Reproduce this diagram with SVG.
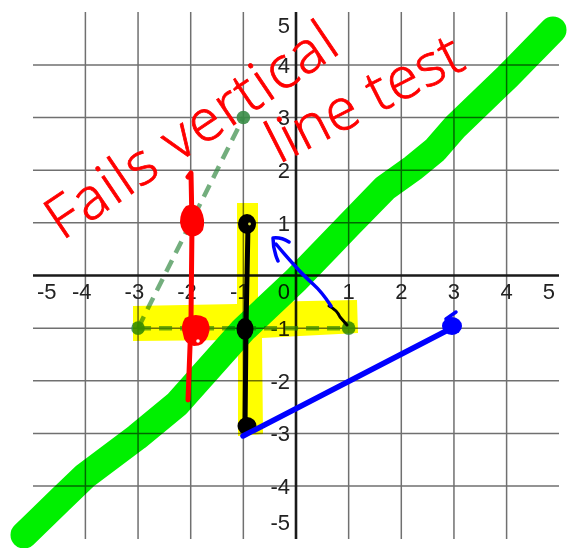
<svg xmlns="http://www.w3.org/2000/svg" width="569" height="548" viewBox="0 0 569 548">
<style>
.grid{stroke:#707070;stroke-width:1.5;fill:none}
.axis{stroke:#1a1a1a;stroke-width:2.6;fill:none}
.lbl{font-family:"Liberation Sans",Arial,sans-serif;font-size:22px;fill:#222}
.hl{mix-blend-mode:multiply}
.pen{fill:none;stroke-linecap:round;stroke-linejoin:round}
.hand{font-family:"Open Sans","Liberation Sans",sans-serif;font-weight:300;font-size:58px;fill:#ff0000;stroke:#ff0000;stroke-width:0.8}
</style>
<rect width="569" height="548" fill="#fff"/>
<g id="grid">
<path class="grid" d="M85.4 12V539M138.05 12V539M190.7 12V539M243.35 12V539M348.65 12V539M401.3 12V539M453.95 12V539M506.6 12V539M33 64.9H559M33 117.55H559M33 170.2H559M33 222.85H559M33 328.15H559M33 380.8H559M33 433.45H559M33 486.1H559"/>
<path class="axis" d="M33 275.5H559M296 12V539"/>
</g>
<g id="tick-labels" class="lbl">
<text x="37" y="299">-5</text>
<text x="81.7" y="299" text-anchor="middle">-4</text>
<text x="134.4" y="299" text-anchor="middle">-3</text>
<text x="187" y="299" text-anchor="middle">-2</text>
<text x="239.7" y="299" text-anchor="middle">-1</text>
<text x="290" y="299" text-anchor="end">0</text>
<text x="348.65" y="299" text-anchor="middle">1</text>
<text x="401.3" y="299" text-anchor="middle">2</text>
<text x="453.95" y="299" text-anchor="middle">3</text>
<text x="506.6" y="299" text-anchor="middle">4</text>
<text x="555" y="299" text-anchor="end">5</text>
<text x="290" y="32.5" text-anchor="end">5</text>
<text x="290" y="72.8" text-anchor="end">4</text>
<text x="290" y="125.4" text-anchor="end">3</text>
<text x="290" y="178" text-anchor="end">2</text>
<text x="290" y="230.7" text-anchor="end">1</text>
<text x="290" y="336" text-anchor="end">-1</text>
<text x="290" y="388.7" text-anchor="end">-2</text>
<text x="290" y="441.3" text-anchor="end">-3</text>
<text x="290" y="494" text-anchor="end">-4</text>
<text x="290" y="530" text-anchor="end">-5</text>
</g>
<g id="dashed-segments">
<path d="M138.05 328.15H348.65M138.05 328.15L243.35 117.55" fill="none" stroke="#388c46" stroke-opacity="0.7" stroke-width="4.5" stroke-dasharray="13 8"/>
<g fill="#388c46" fill-opacity="0.9">
<circle cx="138.05" cy="328.15" r="6.8"/>
<circle cx="348.65" cy="328.15" r="6.8"/>
<circle cx="243.35" cy="117.55" r="6.8"/>
</g>
</g>
<g id="yellow-highlight">
<path class="hl" fill="#ffff00" d="M237 203L258 203L258 302L357 300L358 333L300 336L262 338L263 434L238 436L238 340L133 341L133 306L237 304Z"/>
</g>
<g id="green-highlight">
<path class="hl pen" stroke="#00f000" stroke-width="27" d="M24 535L60 500L85 476L137 437L177 404L243 330L296 280L348 226L385 188L413 168L435 150L455 127L507 77L553 30"/>
</g>
<g id="red-line">
<path class="pen" stroke="#ff0000" stroke-width="5" d="M188 177L191 173L192 225L191 320L188 400"/>
<path fill="#ff0000" d="M186 206Q196 202 201 210Q206 220 203 230Q198 238 189 236Q181 232 180 222Q180 212 186 206Z"/>
<path fill="#ff0000" d="M185 318Q196 312 206 318Q212 326 208 336Q204 346 194 346Q184 344 183 334Q180 326 185 318Z"/>
<circle cx="198" cy="341" r="1.8" fill="#fff"/>
</g>
<g id="black-line">
<path class="pen" stroke="#000" stroke-width="5" d="M248 226L246 328L245 428"/>
<ellipse cx="247" cy="224" rx="9" ry="10" fill="#000"/>
<circle cx="249.5" cy="224" r="1.4" fill="#dede40"/>
<ellipse cx="245" cy="329" rx="8.5" ry="11" fill="#000"/>
<ellipse cx="247" cy="426" rx="9.5" ry="9" fill="#000"/>
<path class="pen" stroke="#000" stroke-width="3" d="M329 306Q337 310 340 317L347 325"/>
</g>
<g id="blue-arrow">
<path class="pen" stroke="#0000ff" stroke-width="3.5" d="M331 306Q322 292 313 284Q302 274 296 267Q285 255 276 244M278 261Q273 250 273 238Q281 237 289 242"/>
</g>
<g id="blue-line">
<path class="pen" stroke="#0000ff" stroke-width="5.5" d="M243 436L448 330"/>
<ellipse cx="452" cy="326" rx="10" ry="9" fill="#0000ff"/>
<path class="pen" stroke="#0000ff" stroke-width="3.5" d="M446 319L456 312"/>
</g>
<g id="annotation">
<text class="hand" transform="translate(62 241) rotate(-34)" textLength="338" lengthAdjust="spacing">Fails vertical</text>
<text class="hand" transform="translate(279 164) rotate(-27)" textLength="212" lengthAdjust="spacing">line test</text>
</g>
</svg>
